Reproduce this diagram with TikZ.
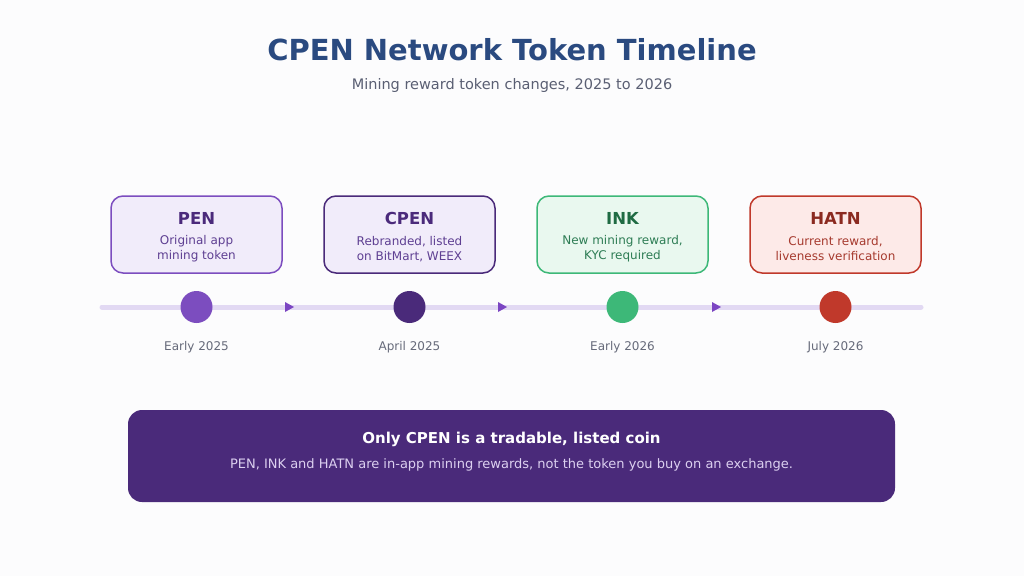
\documentclass[tikz,border=0pt]{standalone}
\usepackage{fontspec}
\setmainfont{DejaVu Sans}
\usetikzlibrary{positioning}
\definecolor{bgc}{HTML}{FCFCFD}
\definecolor{titlec}{HTML}{2A4A80}
\definecolor{subc}{HTML}{5A5F73}
\definecolor{datec}{HTML}{666A7A}
\definecolor{linec}{HTML}{E2D9F3}
\definecolor{arrc}{HTML}{7B45C2}
\definecolor{penb}{HTML}{7C4DBF}
\definecolor{penf}{HTML}{F1ECFA}
\definecolor{pent}{HTML}{4B2A7B}
\definecolor{penx}{HTML}{5E3F92}
\definecolor{cpenb}{HTML}{4A2A7A}
\definecolor{inkb}{HTML}{3DB878}
\definecolor{inkf}{HTML}{E9F8EF}
\definecolor{inkt}{HTML}{1F6B43}
\definecolor{inkx}{HTML}{2E7D55}
\definecolor{hatb}{HTML}{C0392B}
\definecolor{hatf}{HTML}{FDEAE8}
\definecolor{hatt}{HTML}{8B2A20}
\definecolor{hatx}{HTML}{A63A2E}
\definecolor{notef}{HTML}{4A2A7A}
\definecolor{notex}{HTML}{DCD0F0}
\tikzset{
  card/.style={draw=#1, line width=1.5pt, rounded corners=12pt, minimum width=171pt, minimum height=77pt, inner sep=0pt},
  dot/.style={circle, fill=#1, minimum size=32pt, inner sep=0pt},
  datelbl/.style={text=datec, font=\fontsize{12}{14}\selectfont},
  cardtitle/.style={font=\fontsize{16.5}{19}\bfseries},
  cardtext/.style={font=\fontsize{12}{15}\selectfont, align=center},
  tipc/.style={fill=arrc},
}
\begin{document}
\begin{tikzpicture}[x=1pt,y=-1pt]
\fill[bgc] (0,0) rectangle (1024,576);
\useasboundingbox (0,0) rectangle (1024,576);
% title
\node[text=titlec, font=\fontsize{29}{34}\bfseries\selectfont] (title) at (512,49.5) {CPEN Network Token Timeline};
\node[text=subc, font=\fontsize{14.5}{18}\selectfont] (subtitle) at (512,85.5) {Mining reward token changes, 2025 to 2026};
% timeline line
\coordinate (tls) at (102,307);
\coordinate (tle) at (921,307);
\draw[linec, line width=5pt, line cap=round] (tls) -- (tle);
% arrow tips
\foreach \x in {294,507,721}{
  \fill[tipc] (\x,307) -- (\x-9,302) -- (\x-9,312) -- cycle;
}
% dots
\node[dot=penb] (d1) at (196.5,307) {};
\node[dot=cpenb] (d2) at (409.5,307) {};
\node[dot=inkb] (d3) at (622.5,307) {};
\node[dot=hatb] (d4) at (835.5,307) {};
% cards
\node[card=penb, fill=penf] (c1) at (196.5,234.5) {};
\node[card=cpenb, fill=penf] (c2) at (409.5,234.5) {};
\node[card=inkb, fill=inkf] (c3) at (622.5,234.5) {};
\node[card=hatb, fill=hatf] (c4) at (835.5,234.5) {};
% card texts
\node[cardtitle, text=pent] (t1) at (196.5,218) {PEN};
\node[cardtext, text=penx] (s1) at (196.5,249) {Original app\\mining token};
\node[cardtitle, text=pent] (t2) at (409.5,218) {CPEN};
\node[cardtext, text=penx] (s2) at (409.5,249) {Rebranded, listed\\on BitMart, WEEX};
\node[cardtitle, text=inkt] (t3) at (622.5,218) {INK};
\node[cardtext, text=inkx] (s3) at (622.5,249) {New mining reward,\\KYC required};
\node[cardtitle, text=hatt] (t4) at (835.5,218) {HATN};
\node[cardtext, text=hatx] (s4) at (835.5,249) {Current reward,\\liveness verification};
% dates
\node[datelbl] (e1) at (196.5,347) {Early 2025};
\node[datelbl] (e2) at (409.5,347) {April 2025};
\node[datelbl] (e3) at (622.5,347) {Early 2026};
\node[datelbl] (e4) at (835.5,347) {July 2026};
% note
\node[fill=notef, rounded corners=14pt, minimum width=767pt, minimum height=92pt, inner sep=0pt] (note) at (511.5,456) {};
\node[text=white, font=\fontsize{15}{18}\bfseries\selectfont] (nt) at (511.5,439) {Only CPEN is a tradable, listed coin};
\node[text=notex, font=\fontsize{13}{16}\selectfont] (nx) at (511.5,465) {PEN, INK and HATN are in-app mining rewards, not the token you buy on an exchange.};
\end{tikzpicture}
\end{document}
